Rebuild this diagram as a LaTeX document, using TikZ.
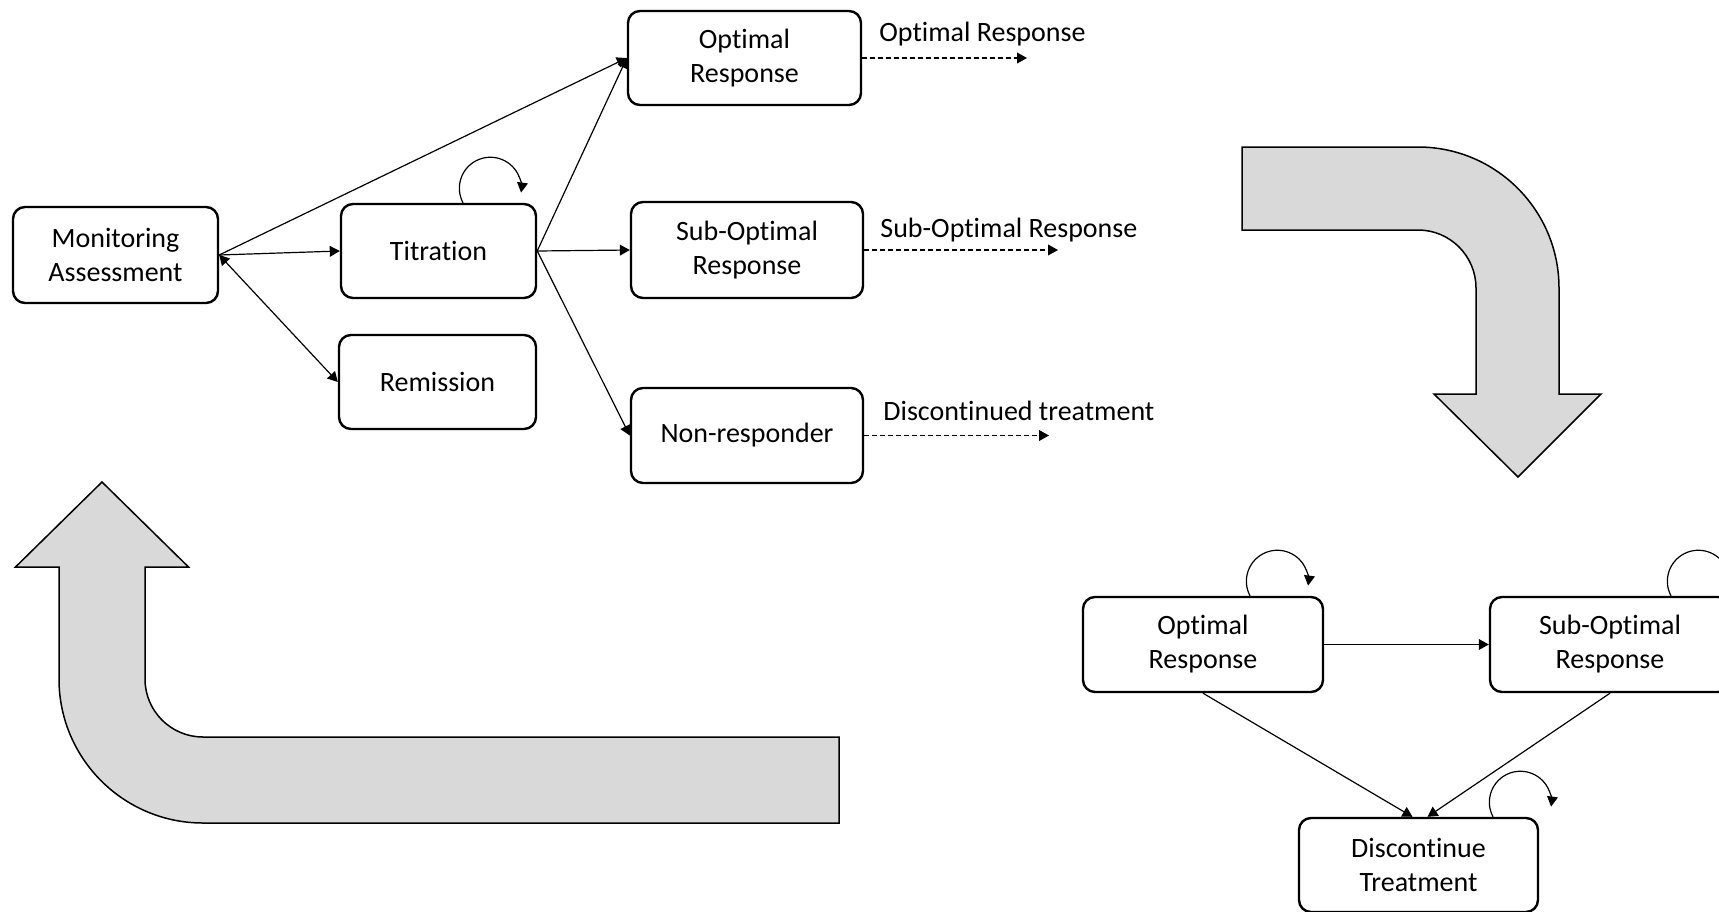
\documentclass[tikz,border=0pt]{standalone}
\usepackage{fontspec}
\setmainfont{Carlito}[RawFeature={-liga}]
\usetikzlibrary{arrows.meta}
\definecolor{arrowgray}{HTML}{D9D9D9}
\begin{document}
\begin{tikzpicture}[x=0.5pt,y=-0.5pt,
  box/.style={draw, line width=1.2pt, rounded corners=6pt, align=center,
    inner sep=2pt, font=\fontsize{14}{17}\selectfont},
  conn/.style={line width=0.6pt, -{Triangle[length=5pt,width=5.4pt]}},
  both/.style={line width=0.6pt, {Triangle[length=5pt,width=5.4pt]}-{Triangle[length=5pt,width=5.4pt]}},
  dashconn/.style={conn, dash pattern=on 2.5pt off 1.5pt},
  outcome/.style={anchor=base west, inner sep=0pt, font=\fontsize{14}{17}\selectfont},
  bigarrow/.style={fill=arrowgray, draw=black, line width=0.75pt, line join=miter},
  selfloop/.style={line width=0.6pt, -{Triangle[length=5pt,width=5.4pt]}}
]
\clip (0,0) rectangle (1719,911);

% large curved flow arrows
\draw[bigarrow] (1242,147) -- (1418,147)
  arc[start angle=90, end angle=0, radius=70.5pt]
  -- (1559,394) -- (1601,394) -- (1518,477) -- (1434,394) -- (1476,394)
  -- (1476,288) arc[start angle=0, end angle=90, radius=29pt]
  -- (1242,230) -- cycle;
\draw[bigarrow] (839,737) -- (203,737)
  arc[start angle=270, end angle=180, radius=29pt]
  -- (145,567) -- (188.5,567) -- (102,482) -- (15.5,567) -- (59,567)
  -- (59,679) arc[start angle=180, end angle=270, radius=72pt]
  -- (839,823) -- cycle;

% first stage
\node[box, minimum width=102.5pt, minimum height=48pt] (ma) at (115.5,255) {Monitoring\\Assessment};
\node[box, minimum width=97.5pt, minimum height=47pt] (tit) at (438.5,251) {Titration};
\node[box, minimum width=98.5pt, minimum height=47pt] (rem) at (437.5,382) {Remission};
\node[box, minimum width=116.5pt, minimum height=47pt] (opt) at (744.5,58) {Optimal\\Response};
\node[box, minimum width=116pt, minimum height=48pt] (sub) at (747,250) {Sub-Optimal\\Response};
\node[box, minimum width=116pt, minimum height=47.5pt] (non) at (747,435.5) {Non-responder};

\draw[conn] (ma.east) -- (tit.west);
\draw[conn] (ma.east) -- (opt.west);
\draw[both] (ma.east) -- (rem.west);
\draw[conn] (tit.east) -- (opt.west);
\draw[conn] (tit.east) -- (sub.west);
\draw[conn] (tit.east) -- (non.west);
\draw[selfloop] ([xshift=12.25pt]tit.north) arc[start angle=208, end angle=-8, radius=15.5pt];

% outcomes
\coordinate (optend) at (1027,58);
\coordinate (subend) at (1058,250);
\coordinate (nonend) at (1049,435.5);
\draw[dashconn] (opt.east) -- (optend);
\draw[dashconn] (sub.east) -- (subend);
\draw[dashconn] (non.east) -- (nonend);
\node[outcome] (lopt) at (879,41) {Optimal Response};
\node[outcome] (lsub) at (880,237) {Sub-Optimal Response};
\node[outcome] (lnon) at (883,420) {Discontinued treatment};

% second stage
\node[box, minimum width=120pt, minimum height=47.5pt] (optb) at (1203,644.5) {Optimal\\Response};
\node[box, minimum width=120pt, minimum height=47.5pt] (subb) at (1610,644.5) {Sub-Optimal\\Response};
\node[box, minimum width=119.5pt, minimum height=47pt] (disc) at (1418.5,865) {Discontinue\\Treatment};

\draw[conn] (optb.east) -- (subb.west);
\draw[conn] (optb.south) -- ([xshift=-3pt]disc.north);
\draw[conn] (subb.south) -- ([xshift=4.5pt]disc.north);
\draw[selfloop] ([xshift=23.5pt]optb.north) arc[start angle=208, end angle=-8, radius=15.5pt];
\draw[selfloop] ([xshift=30.5pt]subb.north) arc[start angle=208, end angle=-8, radius=15.5pt];
\draw[selfloop] ([xshift=37.25pt]disc.north) arc[start angle=208, end angle=-8, radius=15.5pt];
\end{tikzpicture}
\end{document}
